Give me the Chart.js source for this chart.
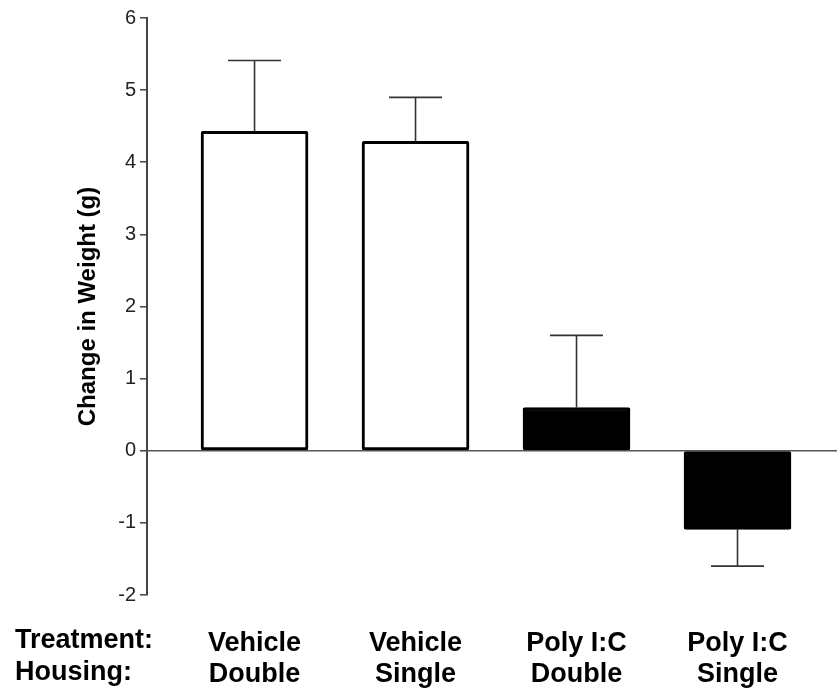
<!DOCTYPE html>
<html>
<head>
<meta charset="utf-8">
<style>
  html, body { margin: 0; padding: 0; background: #fff; }
  #wrap { width: 837px; height: 690px; }
</style>
<script src="https://cdn.jsdelivr.net/npm/chart.js@4/dist/chart.umd.min.js"></script>
</head>
<body>
<div id="wrap"><canvas id="weightChart"></canvas></div>
<script>
  // group labels (treatment / housing)
  const treatments = ['Vehicle', 'Vehicle', 'Poly I:C', 'Poly I:C'];
  const housing = ['Double', 'Single', 'Double', 'Single'];
  // mean change in weight (g) and SEM
  const means = [4.43, 4.29, 0.60, -1.09];
  const sems = [0.98, 0.61, 1.00, 0.51];
  const fills = ['#ffffff', '#ffffff', '#000000', '#000000'];
  const yTicks = [6, 5, 4, 3, 2, 1, 0, -1, -2];

  const FONT = "'Liberation Sans', Arial, Helvetica, sans-serif";

  // one sided error bars (away from zero)
  const errorBars = {
    id: 'errorBars',
    afterDatasetsDraw(chart) {
      const ctx = chart.ctx;
      const y = chart.scales.y;
      const meta = chart.getDatasetMeta(0);
      ctx.save();
      ctx.strokeStyle = '#333';
      ctx.lineWidth = 1.6;
      meta.data.forEach(function(bar, i) {
        const v = means[i];
        const end = y.getPixelForValue(v >= 0 ? v + sems[i] : v - sems[i]);
        ctx.beginPath();
        ctx.moveTo(bar.x, bar.y);
        ctx.lineTo(bar.x, end);
        ctx.moveTo(bar.x - 26.5, end);
        ctx.lineTo(bar.x + 26.5, end);
        ctx.stroke();
      });
      ctx.restore();
    }
  };

  // row headers to the left of the x labels
  const rowHeaders = {
    id: 'rowHeaders',
    afterDraw(chart) {
      const ctx = chart.ctx;
      ctx.save();
      ctx.fillStyle = '#000';
      ctx.font = 'bold 27px ' + FONT;
      ctx.textAlign = 'left';
      ctx.textBaseline = 'alphabetic';
      ctx.fillText('Treatment:', 15, 648);
      ctx.fillText('Housing:', 15, 680);
      ctx.restore();
    }
  };

  function drawChart() {
    const ctx = document.getElementById('weightChart').getContext('2d');
    const points = means.map(function(v, i) { return { x: i, y: v }; });

    new Chart(ctx, {
      type: 'bar',
      data: {
        datasets: [{
          data: points,
          backgroundColor: fills,
          borderColor: '#000',
          borderWidth: 3,
          borderSkipped: false,
          borderRadius: 2,
          barThickness: 107
        }]
      },
      options: {
        responsive: true,
        maintainAspectRatio: false,
        animation: false,
        layout: { padding: { top: 18, right: 0, bottom: 0, left: 70 } },
        plugins: { legend: { display: false }, tooltip: { enabled: false } },
        scales: {
          x: {
            type: 'linear',
            offset: false,
            min: -0.668,
            max: 3.618,
            border: { display: false },
            grid: { display: false },
            afterBuildTicks: function(axis) {
              axis.ticks = treatments.map(function(t, i) { return { value: i }; });
            },
            afterFit: function(axis) { axis.height = 95; },
            ticks: {
              padding: 25,
              autoSkip: false,
              maxRotation: 0,
              color: '#000',
              font: { family: FONT, size: 27, weight: 'bold', lineHeight: 1.15 },
              callback: function(value, index) {
                return [treatments[index], housing[index]];
              }
            }
          },
          y: {
            min: -2,
            max: 6,
            afterBuildTicks: function(axis) {
              axis.ticks = yTicks.map(function(v) { return { value: v }; });
            },
            afterFit: function(axis) { axis.width = 77; },
            border: { display: true, color: '#444', width: 2 },
            grid: {
              drawOnChartArea: true,
              drawTicks: true,
              tickLength: 7,
              tickColor: '#444',
              tickWidth: 1.5,
              lineWidth: 1.6,
              color: function(c) { return c.tick && c.tick.value === 0 ? '#555' : 'rgba(0,0,0,0)'; }
            },
            ticks: {
              padding: 4,
              color: '#222',
              font: { family: FONT, size: 20 }
            },
            title: {
              display: true,
              text: 'Change in Weight (g)',
              color: '#000',
              font: { family: FONT, size: 24, weight: 'bold' },
              padding: { top: 4, bottom: 14 }
            }
          }
        }
      },
      plugins: [errorBars, rowHeaders]
    });
  }

  window.onload = drawChart;
</script>
</body>
</html>
